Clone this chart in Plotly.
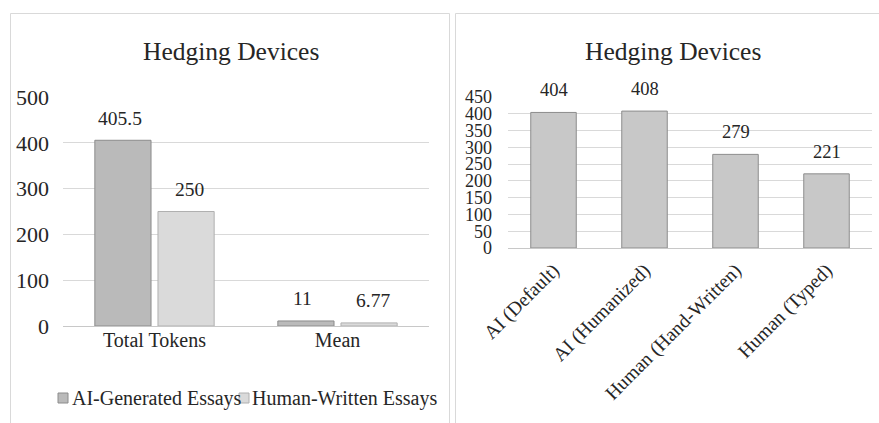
import plotly.graph_objects as go

# ---- data ----
left_categories = ["Total Tokens", "Mean"]
ai_values = [405.5, 11]
human_values = [250, 6.77]
ai_labels = ["405.5", "11"]
human_labels = ["250", "6.77"]
left_series_names = ["AI-Generated Essays", "Human-Written Essays"]

right_categories = ["AI (Default)", "AI (Humanized)", "Human (Hand-Written)", "Human (Typed)"]
right_values = [404, 408, 279, 221]

left_ticks = [0, 100, 200, 300, 400, 500]
right_ticks = [0, 50, 100, 150, 200, 250, 300, 350, 400, 450]

title_text = "Hedging Devices"

FONT = "Liberation Serif, Times New Roman, serif"
TXT = "#262626"
W, H = 879, 423
AI_COLOR, AI_LINE = "#bababa", "#8c8c8c"
HU_COLOR, HU_LINE = "#dadada", "#b0b0b0"

fig = go.Figure()

fig.add_trace(go.Bar(
    x=left_categories, y=ai_values, name=left_series_names[0],
    marker=dict(color=AI_COLOR, line=dict(color=AI_LINE, width=1)),
    xaxis="x", yaxis="y", showlegend=False))
fig.add_trace(go.Bar(
    x=left_categories, y=human_values, name=left_series_names[1],
    marker=dict(color=HU_COLOR, line=dict(color=HU_LINE, width=1)),
    xaxis="x", yaxis="y", showlegend=False))
fig.add_trace(go.Bar(
    x=right_categories, y=right_values, name="Hedging Devices",
    marker=dict(color="#c8c8c8", line=dict(color="#8c8c8c", width=1)),
    xaxis="x2", yaxis="y2", showlegend=False, width=0.5))

annotations = []
for c, v, t in zip(left_categories, ai_values, ai_labels):
    annotations.append(dict(x=c, y=v, xref="x", yref="y", text=t, showarrow=False,
                            xshift=-35, yshift=22, yanchor="middle",
                            font=dict(family=FONT, size=19.5, color=TXT)))
for c, v, t in zip(left_categories, human_values, human_labels):
    annotations.append(dict(x=c, y=v, xref="x", yref="y", text=t, showarrow=False,
                            xshift=35, yshift=22, yanchor="middle",
                            font=dict(family=FONT, size=19.5, color=TXT)))
for c, v in zip(right_categories, right_values):
    annotations.append(dict(x=c, y=v, xref="x2", yref="y2", text=str(v), showarrow=False,
                            yshift=22, yanchor="middle",
                            font=dict(family=FONT, size=18.5, color=TXT)))

# titles
annotations.append(dict(x=231 / W, y=1 - 52 / H, xref="paper", yref="paper", text=title_text,
                        showarrow=False, xanchor="center", yanchor="middle",
                        font=dict(family=FONT, size=25.5, color=TXT)))
annotations.append(dict(x=673 / W, y=1 - 52 / H, xref="paper", yref="paper", text=title_text,
                        showarrow=False, xanchor="center", yanchor="middle",
                        font=dict(family=FONT, size=25.5, color=TXT)))

# manual legend (swatch + text)
legend_items = [(left_series_names[0], AI_COLOR, AI_LINE, 58, 70),
                (left_series_names[1], HU_COLOR, HU_LINE, 239, 250)]
shapes = [
    dict(type="rect", xref="paper", yref="paper", x0=10.5 / W, x1=449.5 / W,
         y0=-0.1, y1=1 - 13.5 / H, line=dict(color="#d9d9d9", width=1)),
    dict(type="rect", xref="paper", yref="paper", x0=455.5 / W, x1=1.05,
         y0=-0.1, y1=1 - 13.5 / H, line=dict(color="#d9d9d9", width=1)),
]
for name, col, lcol, sx, tx in legend_items:
    shapes.append(dict(type="rect", xref="paper", yref="paper",
                       x0=sx / W, x1=(sx + 10) / W, y0=1 - 403 / H, y1=1 - 393 / H,
                       fillcolor=col, line=dict(color=lcol, width=1)))
    annotations.append(dict(x=tx / W, y=1 - 398 / H, xref="paper", yref="paper", text=name,
                            showarrow=False, xanchor="left", yanchor="middle",
                            font=dict(family=FONT, size=20, color=TXT)))

fig.update_layout(
    width=W, height=H,
    margin=dict(l=0, r=0, t=0, b=0, autoexpand=False),
    paper_bgcolor="white", plot_bgcolor="white",
    barmode="group", bargap=0.31, bargroupgap=0.11,
    font=dict(family=FONT, color=TXT),
    annotations=annotations, shapes=shapes,
    showlegend=False,
    xaxis=dict(domain=[63 / W, 429 / W], anchor="y", showgrid=False, showline=False,
               automargin=False, ticks="", tickfont=dict(family=FONT, size=20, color=TXT)),
    yaxis=dict(domain=[1 - 326 / H, 1 - 97 / H], anchor="x", range=[0, 500],
               tickvals=left_ticks, showgrid=True, gridcolor="#d9d9d9", gridwidth=1,
               zeroline=True, zerolinecolor="#c8c8c8", zerolinewidth=1, showline=False,
               automargin=False, ticks="", tickfont=dict(family=FONT, size=22, color=TXT),
               ticklabelstandoff=13),
    xaxis2=dict(domain=[508 / W, 872 / W], anchor="y2", showgrid=False, showline=False,
                automargin=False, ticks="", tickangle=-45,
                tickfont=dict(family=FONT, size=19.5, color=TXT), ticklabelstandoff=6),
    yaxis2=dict(domain=[1 - 248 / H, 1 - 97 / H], anchor="x2", range=[0, 450],
                tickvals=right_ticks, showgrid=True, gridcolor="#d9d9d9", gridwidth=1,
                zeroline=True, zerolinecolor="#c8c8c8", zerolinewidth=1, showline=False,
                automargin=False, ticks="", tickfont=dict(family=FONT, size=18, color=TXT),
                ticklabelstandoff=15),
)

fig.write_html("out.html", config={"displayModeBar": False},
               post_script="document.body.style.margin='0';document.body.style.overflow='hidden';")
